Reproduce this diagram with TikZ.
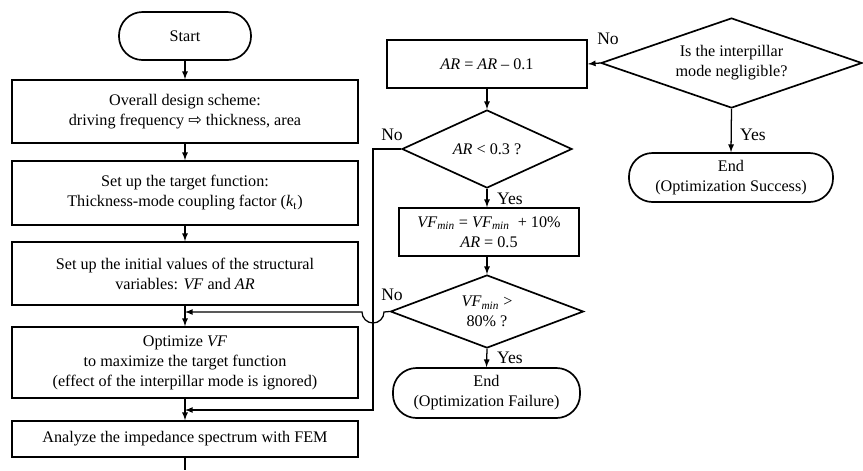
\documentclass[tikz,border=0pt]{standalone}
\usepackage{fontspec}
\setmainfont{Liberation Serif}
\newfontfamily\arrowfont{DejaVu Sans}
\usetikzlibrary{shapes.geometric}

\begin{document}
\begin{tikzpicture}[x=0.025cm, y=-0.025cm, >=latex,
proc/.style={draw, line width=1.2pt, align=center, inner sep=1pt, font=\fontsize{11.5}{14.2}\selectfont},
wide/.style={proc, minimum width=8.65cm},
term/.style={proc, rounded corners=0.59cm},
dec/.style={proc, diamond, inner sep=0pt},
lab/.style={font=\fontsize{12.5}{14}\selectfont, inner sep=0},
arr/.style={->, line width=0.9pt}]
	\useasboundingbox (0,0) rectangle (863,470);

	% main column
	\node[term, minimum width=3.3cm, minimum height=1.2cm] at (185,36) (start) {Start};
	\node[wide, minimum height=1.575cm] at (185,111.5) (design) {Overall design scheme:\\ driving frequency {\arrowfont ⇨} thickness, area};
	\node[wide, minimum height=1.6cm] at (185,193) (target) {Set up the target function:\\ Thickness-mode coupling factor (\textit{k}\textsubscript{t})};
	\node[wide, minimum height=1.575cm] at (185,273.5) (init) {Set up the initial values of the structural\\ variables: \textit{VF} and \textit{AR}};
	\node[wide, minimum height=1.775cm] at (185,362.5) (optim) {Optimize \textit{VF}\\ to maximize the target function\\ (effect of the interpillar mode is ignored)};
	\node[wide, minimum height=0.9cm] at (185,439) (anlz) {Analyze the impedance spectrum with FEM};
	\coordinate (out) at (185,470);

	% middle column
	\node[proc, minimum width=5cm, minimum height=1.2cm] at (487,64) (arstep) {\textit{AR} = \textit{AR} -- 0.1};
	\node[dec, aspect=2.18, minimum width=4.25cm, minimum height=1.95cm] at (487,149) (archk) {\textit{AR} < 0.3 ?};
	\node[proc, minimum width=4.5cm, minimum height=1.2cm] at (489,232) (vfstep) {\textit{VF}\textsubscript{\textit{min}} = \textit{VF}\textsubscript{\textit{min}}~~+ 10\%\\ \textit{AR} = 0.5};
	\node[dec, aspect=2.64, minimum width=4.825cm, minimum height=1.825cm] at (487,311.5) (vfchk) {\textit{VF}\textsubscript{\textit{min}} >\\ 80\% ?};
	\node[term, minimum width=4.675cm, minimum height=1.25cm] at (486.5,393) (endfail) {End\\ (Optimization Failure)};

	% right column
	\node[dec, aspect=2.9, minimum width=6.525cm, minimum height=2.25cm] at (731.5,63) (modechk) {Is the interpillar\\ mode negligible?};
	\node[term, minimum width=5.1cm, minimum height=1.225cm] at (731,177.5) (endok) {End\\ (Optimization Success)};

	\coordinate (j1) at (185,312);
	\coordinate (j2) at (185,410);

	\draw[arr] (start.south) -- (design.north);
	\draw[arr] (design.south) -- (target.north);
	\draw[arr] (target.south) -- (init.north);
	\draw[arr] (init.south) -- (optim.north);
	\draw[arr] (optim.south) -- (anlz.north);
	\draw[line width=0.9pt] (anlz.south) -- (out);

	\draw[arr] (modechk.west) -- (arstep.east);
	\draw[arr] (modechk.south) -- (endok.north);
	\draw[arr] (arstep.south) -- (archk.north);
	\draw[arr] (archk.south) -- (archk.south |- vfstep.north);
	\draw[arr] (vfstep.south -| vfchk.north) -- (vfchk.north);
	\draw[arr] (vfchk.south) -- (endfail.north);

	\draw[arr] (archk.west) -- (373,149) -- (373,410) -- (j2);
	\draw[arr] (vfchk.west) -- (384,312) arc[start angle=0, end angle=-180, radius=0.275cm] -- (j1);

	\node[lab] at (608,39) (no1) {No};
	\node[lab] at (753,135) (yes1) {Yes};
	\node[lab] at (392,135) (no2) {No};
	\node[lab] at (510,199) (yes2) {Yes};
	\node[lab] at (392,295) (no3) {No};
	\node[lab] at (510,358) (yes3) {Yes};
\end{tikzpicture}
\end{document}
